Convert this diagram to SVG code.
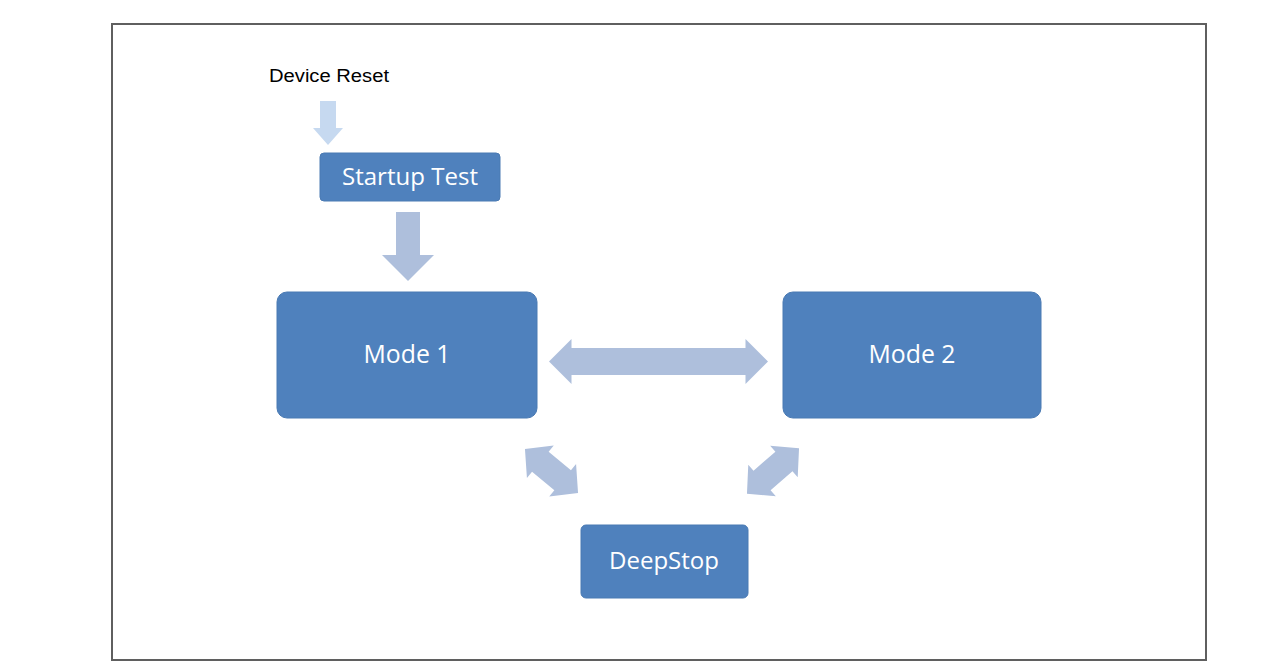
<svg xmlns="http://www.w3.org/2000/svg" width="1280" height="666" viewBox="0 0 1280 666">
<style>
.box{fill:#4f81bd;stroke:#4a7ab3;stroke-width:1}
.lbl{font-family:"Open Sans","Noto Sans","DejaVu Sans",sans-serif;fill:#ffffff;text-anchor:middle}
.arr{fill:#aebfdc}
.arr2{fill:#c6d9f0}
</style>
<rect x="0" y="0" width="1280" height="666" fill="#ffffff"/>
<rect x="112" y="24" width="1094" height="636" fill="none" stroke="#5f5f5f" stroke-width="2"/>
<g id="connectors">
  <polygon class="arr2" points="320,101 336,101 336,128 343,128 328,145 313,128 320,128"/>
  <polygon class="arr" points="396,212 420,212 420,255 434,255 408,281 382,255 396,255"/>
  <polygon class="arr" points="549,361.5 571.5,339 571.5,348 745.5,348 745.5,339 768,361.5 745.5,384 745.5,375 571.5,375 571.5,384"/>
  <polygon class="arr" transform="translate(551.5,471) rotate(39.7)" points="-34.5,0 -14.5,-21 -14.5,-13 14.5,-13 14.5,-21 34.5,0 14.5,21 14.5,13 -14.5,13 -14.5,21"/>
  <polygon class="arr" transform="translate(773,471) rotate(-41)" points="-34.5,0 -14.5,-21 -14.5,-13 14.5,-13 14.5,-21 34.5,0 14.5,21 14.5,13 -14.5,13 -14.5,21"/>
</g>
<g id="device-reset">
  <text x="269" y="82" font-family="'Liberation Sans',Arial,sans-serif" font-size="18" fill="#000000" textLength="120" lengthAdjust="spacingAndGlyphs">Device Reset</text>
</g>
<g id="startup-test">
  <rect class="box" x="320" y="153" width="180" height="48" rx="4"/>
  <text class="lbl" x="410" y="185" font-size="23" textLength="136" lengthAdjust="spacingAndGlyphs">Startup Test</text>
</g>
<g id="mode1">
  <rect class="box" x="277" y="292" width="260" height="126" rx="10"/>
  <text class="lbl" x="407" y="363" font-size="25" textLength="87" lengthAdjust="spacingAndGlyphs">Mode 1</text>
</g>
<g id="mode2">
  <rect class="box" x="783" y="292" width="258" height="126" rx="10"/>
  <text class="lbl" x="912" y="363" font-size="25" textLength="87" lengthAdjust="spacingAndGlyphs">Mode 2</text>
</g>
<g id="deepstop">
  <rect class="box" x="581" y="525" width="167" height="73" rx="5"/>
  <text class="lbl" x="664" y="569" font-size="24" textLength="110" lengthAdjust="spacingAndGlyphs">DeepStop</text>
</g>
</svg>
